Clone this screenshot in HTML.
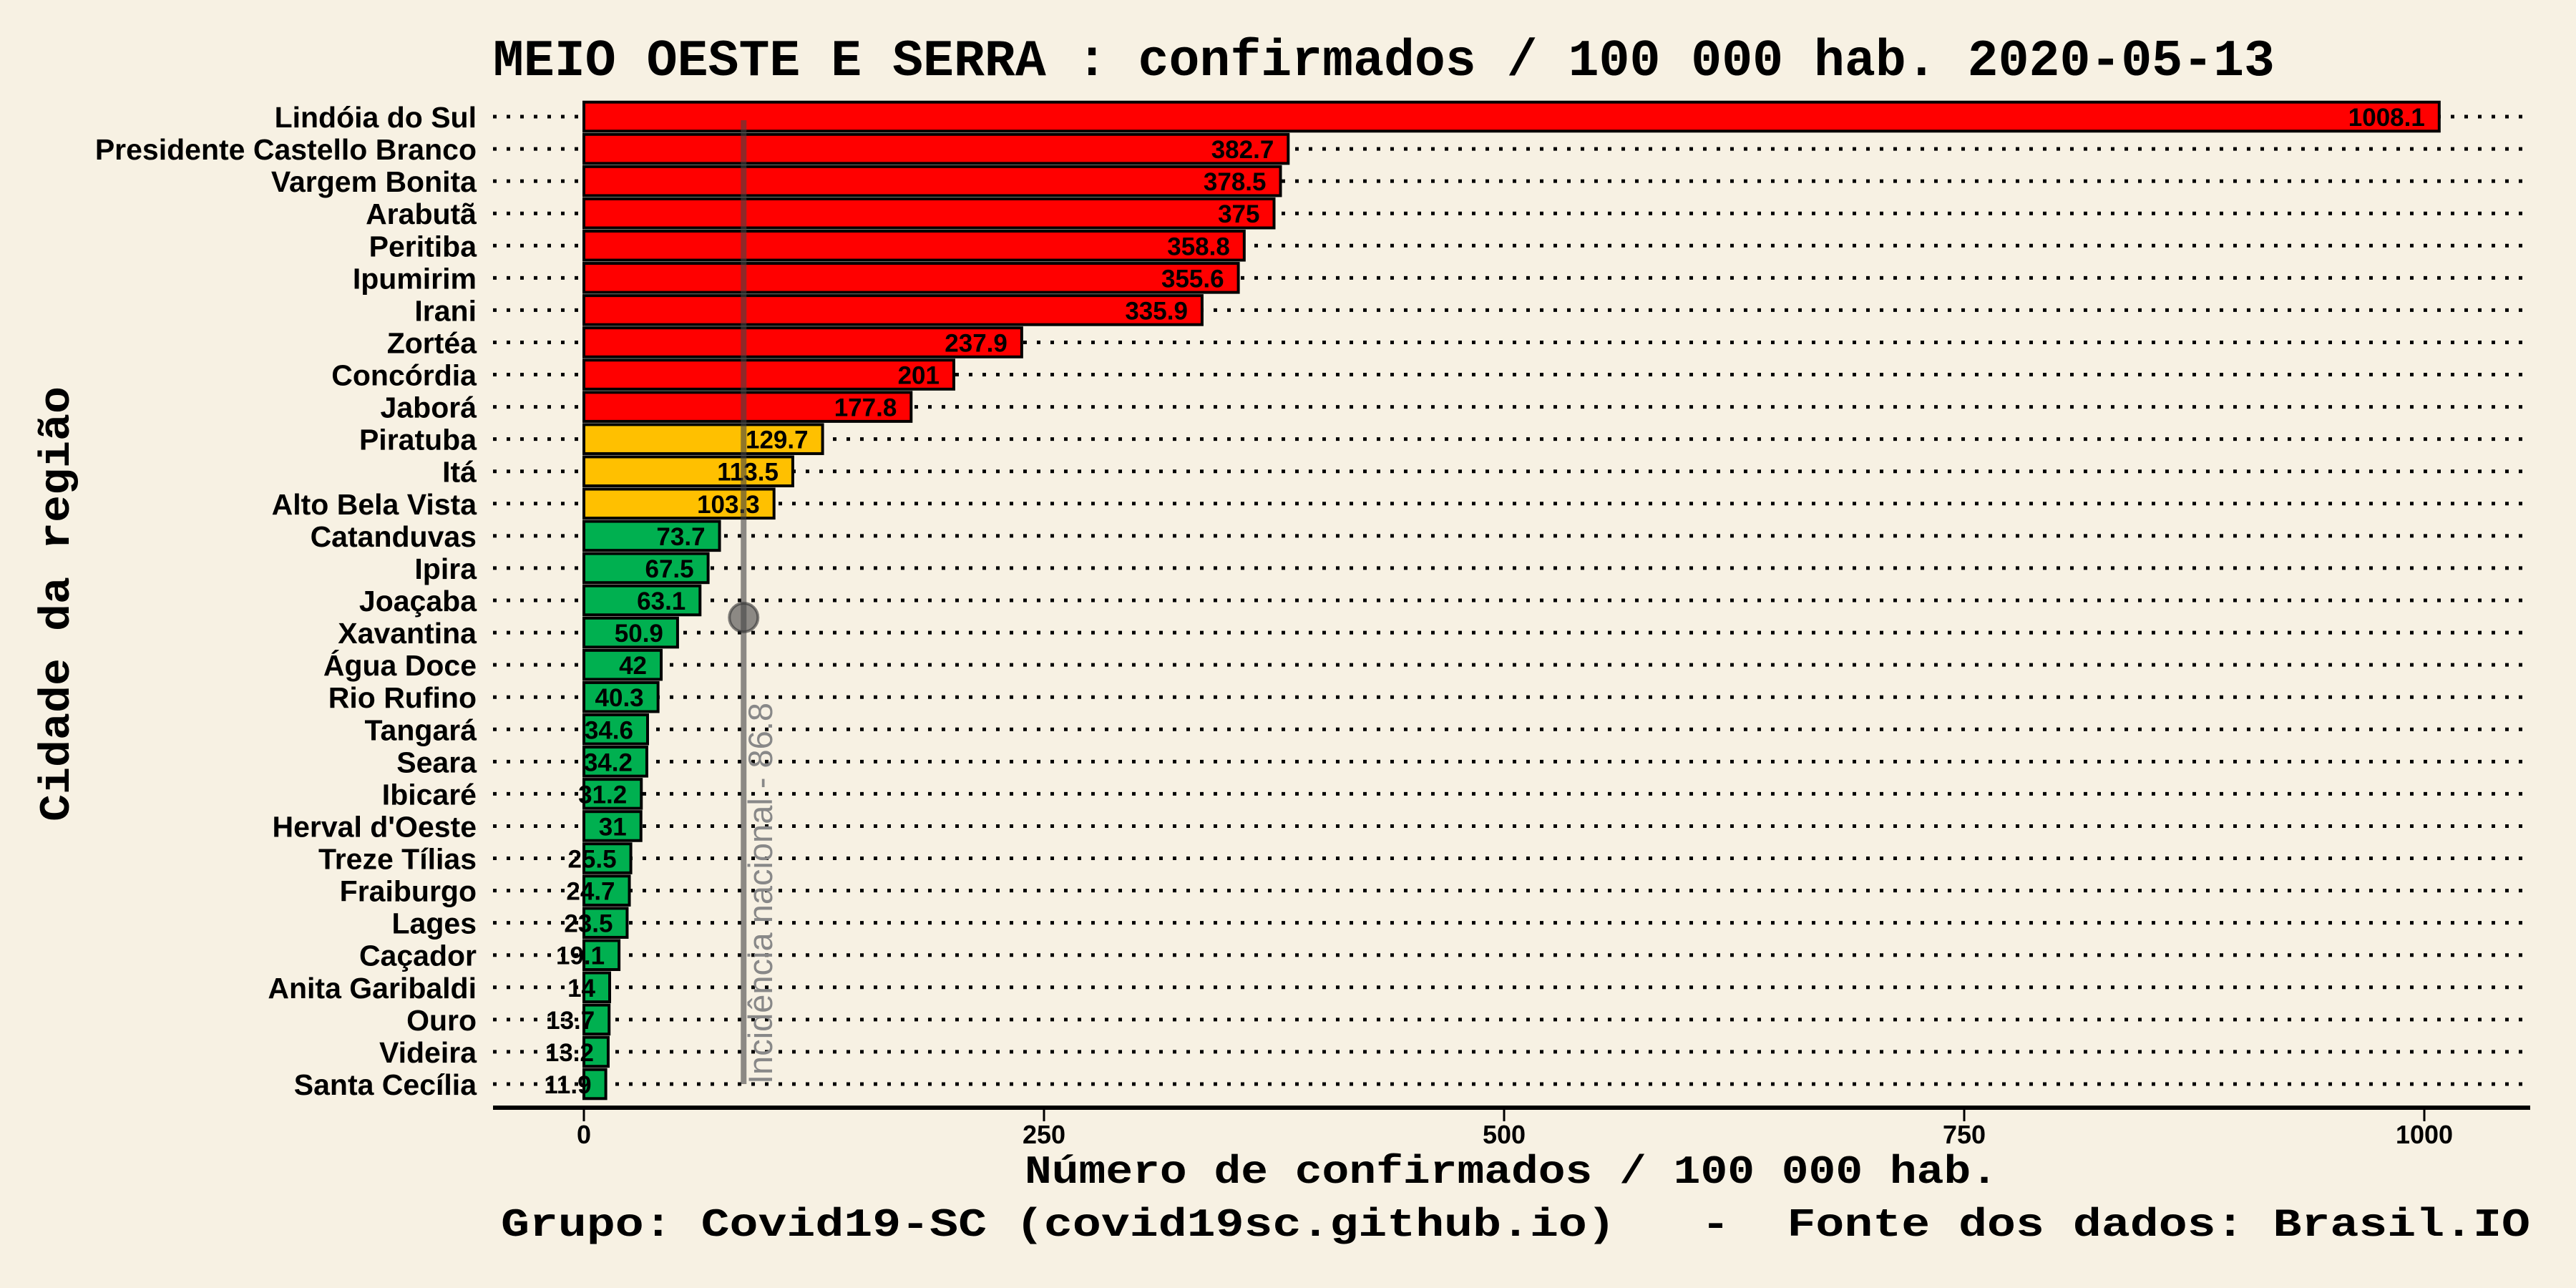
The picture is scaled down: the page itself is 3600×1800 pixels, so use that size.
<!DOCTYPE html>
<html><head><meta charset="utf-8"><style>
html,body{margin:0;padding:0;background:#F7F1E3;}
svg{display:block;}
</style></head><body>
<svg id="chart" width="3600" height="1800" viewBox="0 0 3600 1800" xmlns="http://www.w3.org/2000/svg">
<rect x="0" y="0" width="3600" height="1800" fill="#F7F1E3"/>
<text x="689" y="105" font-family="Liberation Mono, monospace" font-weight="bold" font-size="72" textLength="2490" lengthAdjust="spacingAndGlyphs">MEIO OESTE E SERRA : confirmados / 100 000 hab. 2020-05-13</text>
<g id="grid"></g>
<g id="bars"></g>
<g id="labels"></g>
<g id="ycats"></g>
<g id="ref"></g>
<line x1="689" y1="1548" x2="3536" y2="1548" stroke="#000" stroke-width="6"/>
<g id="xticks"></g>
<text x="2112" y="1653" text-anchor="middle" font-family="Liberation Mono, monospace" font-weight="bold" font-size="56" textLength="1360" lengthAdjust="spacingAndGlyphs">Número de confirmados / 100 000 hab.</text>
<text x="3536" y="1727" text-anchor="end" font-family="Liberation Mono, monospace" font-weight="bold" font-size="56" textLength="2836" lengthAdjust="spacingAndGlyphs" xml:space="preserve">Grupo: Covid19-SC (covid19sc.github.io)   -  Fonte dos dados: Brasil.IO</text>
<text transform="translate(96,844) rotate(-90)" text-anchor="middle" font-family="Liberation Mono, monospace" font-weight="bold" font-size="60" textLength="608" lengthAdjust="spacingAndGlyphs">Cidade da região</text>
</svg>
<script>
const categories = ["Lindóia do Sul","Presidente Castello Branco","Vargem Bonita","Arabutã","Peritiba","Ipumirim","Irani","Zortéa","Concórdia","Jaborá","Piratuba","Itá","Alto Bela Vista","Catanduvas","Ipira","Joaçaba","Xavantina","Água Doce","Rio Rufino","Tangará","Seara","Ibicaré","Herval d'Oeste","Treze Tílias","Fraiburgo","Lages","Caçador","Anita Garibaldi","Ouro","Videira","Santa Cecília"];
const values = [1008.1,382.7,378.5,375,358.8,355.6,335.9,237.9,201,177.8,129.7,113.5,103.3,73.7,67.5,63.1,50.9,42,40.3,34.6,34.2,31.2,31,25.5,24.7,23.5,19.1,14,13.7,13.2,11.9];
const xTicks = [0,250,500,750,1000];
const refValue = 86.8;
const refLabel = "Incidência nacional - 86.8";

const NS="http://www.w3.org/2000/svg";
const X0=816, XS=2.572;
const xScale=v=>X0+v*XS;
const Y0=163, YTOP=163, YBOT=1515;
const step=(YBOT-YTOP)/(categories.length-1);
const yScale=i=>Y0+i*step;
const BH=step*0.9;
function mk(tag,attrs,parent){const e=document.createElementNS(NS,tag);for(const k in attrs)e.setAttribute(k,attrs[k]);parent.appendChild(e);return e;}
const grid=document.getElementById('grid'),bars=document.getElementById('bars'),labels=document.getElementById('labels'),ycats=document.getElementById('ycats'),xt=document.getElementById('xticks'),ref=document.getElementById('ref');
function color(v){return v>=150?'#FF0000':(v>=100?'#FFC000':'#00B050');}
categories.forEach((c,i)=>{
  const y=yScale(i);
  const g=mk('line',{x1:689,y1:y,x2:3530,y2:y,stroke:'#000','stroke-width':5,'stroke-dasharray':'5 14'},grid);
  
  
  const r=mk('rect',{x:X0,y:y-BH/2,width:xScale(values[i])-X0,height:BH,fill:color(values[i]),stroke:'#000','stroke-width':4},bars);
  
  
  const t=mk('text',{x:xScale(values[i])-20,y:y+13,'text-anchor':'end','font-family':'Liberation Sans, sans-serif','font-weight':'bold','font-size':35,fill:'#000'},labels);
  t.textContent=String(values[i]);
  
  
  const l=mk('text',{x:666,y:y+15,'text-anchor':'end','font-family':'Liberation Sans, sans-serif','font-weight':'bold','font-size':41,fill:'#000'},ycats);
  l.textContent=c;
  
  
});
xTicks.forEach(v=>{
  const x=xScale(v);
  const tk=mk('line',{x1:x,y1:1551,x2:x,y2:1567,stroke:'#000','stroke-width':3},xt);
  
  
  const tl=mk('text',{x:x,y:1598,'text-anchor':'middle','font-family':'Liberation Sans, sans-serif','font-weight':'bold','font-size':36},xt);
  tl.textContent=String(v);
  
  
});
const rx=xScale(refValue);
const rl=mk('line',{x1:rx,y1:168,x2:rx,y2:1515,stroke:'#444','stroke-opacity':0.6,'stroke-width':8},ref);


const rc=mk('circle',{cx:rx,cy:863,r:20,fill:'#444','fill-opacity':0.6,stroke:'#333','stroke-opacity':0.6,'stroke-width':4},ref);


const rt=mk('text',{transform:`translate(${rx+40},1515) rotate(-90)`,'font-family':'Liberation Sans, sans-serif','font-size':47,fill:'#888'},ref);
rt.textContent=refLabel;


</script>
</body></html>
